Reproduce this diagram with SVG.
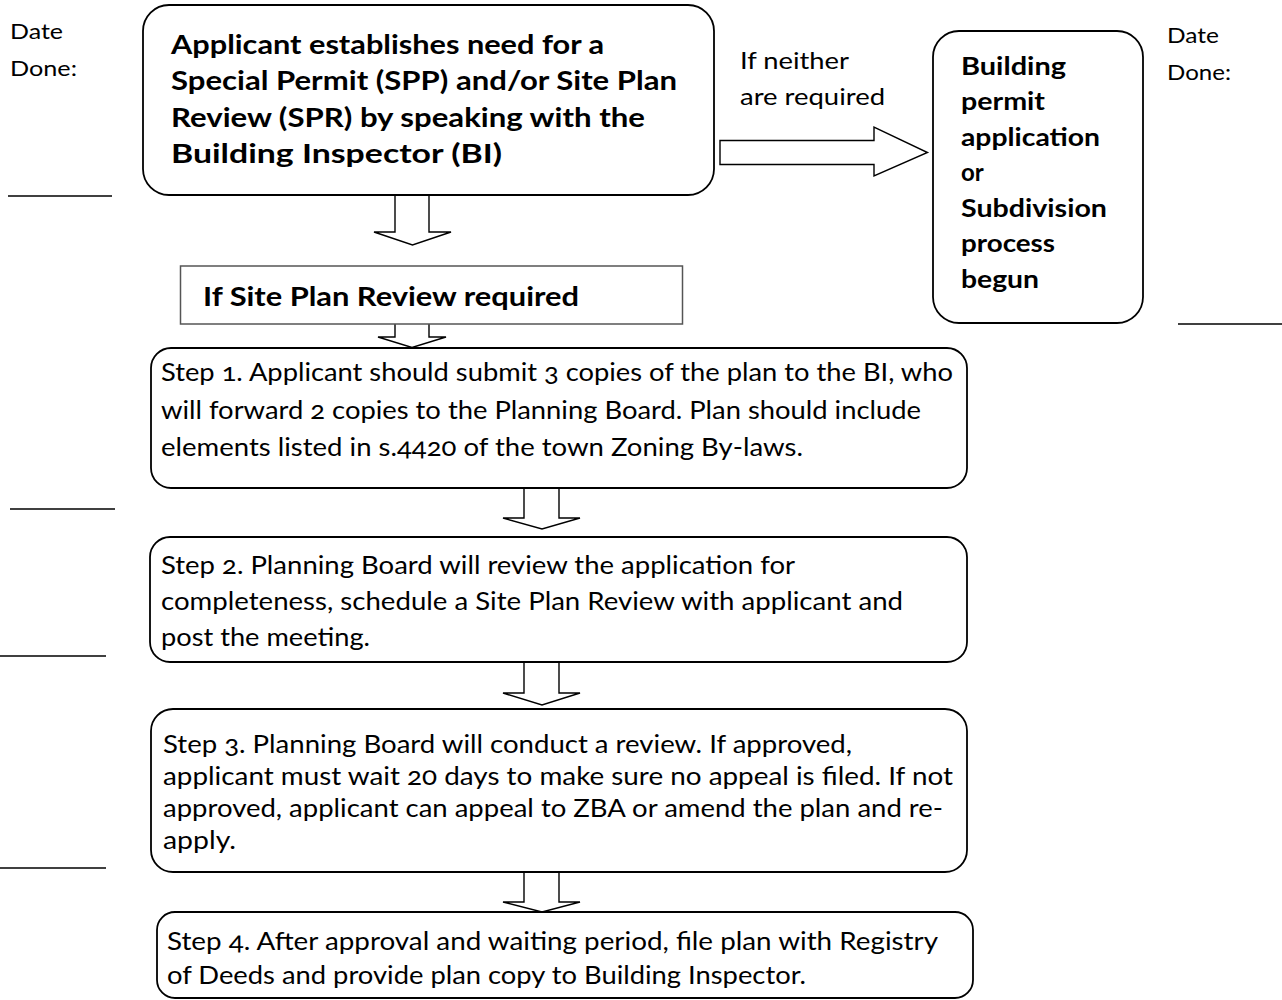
<svg xmlns="http://www.w3.org/2000/svg" width="1282" height="1000" viewBox="0 0 1282 1000">
<style>
.box{fill:#fff;stroke:#000;stroke-width:1.8}
.rect{fill:#fff;stroke:#555;stroke-width:1.5}
.arr{fill:#fff;stroke:#000;stroke-width:1.4;stroke-linejoin:miter}
.t{font-family:Lato,"Open Sans","Liberation Sans",sans-serif;font-size:25px;fill:#000;font-variant-numeric:oldstyle-nums}
.b{font-family:Lato,"Open Sans","Liberation Sans",sans-serif;font-weight:bold;fill:#000}
.h1{font-size:27px}
.h2{font-size:24px}
.lbl{font-family:Lato,"Open Sans","Liberation Sans",sans-serif;font-size:22px;fill:#000}
.rule{stroke:#000;stroke-width:1.4}
</style>

<g id="date-left">
<text class="lbl" x="10" y="39" textLength="53" lengthAdjust="spacingAndGlyphs">Date</text>
<text class="lbl" x="10" y="76" textLength="67" lengthAdjust="spacingAndGlyphs">Done:</text>
</g>
<g id="date-right">
<text class="lbl" x="1167" y="43" textLength="52" lengthAdjust="spacingAndGlyphs">Date</text>
<text class="lbl" x="1167" y="80" textLength="64" lengthAdjust="spacingAndGlyphs">Done:</text>
</g>
<g id="rules">
<line class="rule" x1="8" y1="196" x2="112" y2="196"/>
<line class="rule" x1="1178" y1="324" x2="1282" y2="324"/>
<line class="rule" x1="10" y1="509" x2="115" y2="509"/>
<line class="rule" x1="0" y1="656" x2="106" y2="656"/>
<line class="rule" x1="0" y1="868" x2="106" y2="868"/>
</g>

<g id="connectors">
<path class="arr" d="M720,140.5 L874,140.5 L874,127 L927.5,152.5 L874,176 L874,164.5 L720,164.5 Z"/>
<path class="arr" d="M395,195 L395,232 L374,232 L412.5,245 L451,232 L429,232 L429,195"/>
<path class="arr" d="M395,324 L395,337 L378,337 L412,347.5 L446,337 L429,337 L429,324"/>
<path class="arr" d="M524,488 L524,518 L503,518 L542,529 L580,518 L559,518 L559,488"/>
<path class="arr" d="M524,662 L524,693 L503,693 L542,705 L580,693 L559,693 L559,662"/>
<path class="arr" d="M524,872 L524,902 L503,902 L542,912 L580,902 L559,902 L559,872"/>
<text class="lbl" x="740" y="69" textLength="109" lengthAdjust="spacingAndGlyphs" style="font-size:24px">If neither</text>
<text class="lbl" x="740" y="105" textLength="145" lengthAdjust="spacingAndGlyphs" style="font-size:24px">are required</text>
</g>

<g id="node-start">
<rect class="box" x="143" y="5" width="571" height="190" rx="26"/>
<text class="b h1" x="171" y="54" textLength="433" lengthAdjust="spacingAndGlyphs">Applicant establishes need for a</text>
<text class="b h1" x="171" y="90" textLength="506" lengthAdjust="spacingAndGlyphs">Special Permit (SPP) and/or Site Plan</text>
<text class="b h1" x="171" y="127" textLength="474" lengthAdjust="spacingAndGlyphs">Review (SPR) by speaking with the</text>
<text class="b h1" x="171" y="163" textLength="331" lengthAdjust="spacingAndGlyphs">Building Inspector (BI)</text>
</g>

<g id="node-building">
<rect class="box" x="933" y="31" width="210" height="292" rx="26"/>
<text class="b h2" x="961" y="75" textLength="105" lengthAdjust="spacingAndGlyphs">Building</text>
<text class="b h2" x="961" y="110" textLength="84" lengthAdjust="spacingAndGlyphs">permit</text>
<text class="b h2" x="961" y="146" textLength="139" lengthAdjust="spacingAndGlyphs">application</text>
<text class="b h2" x="961" y="181">or</text>
<text class="b h2" x="961" y="217" textLength="146" lengthAdjust="spacingAndGlyphs">Subdivision</text>
<text class="b h2" x="961" y="252" textLength="94" lengthAdjust="spacingAndGlyphs">process</text>
<text class="b h2" x="961" y="288" textLength="78" lengthAdjust="spacingAndGlyphs">begun</text>
</g>

<g id="node-spr">
<rect class="rect" x="180.5" y="266" width="502" height="58"/>
<text class="b h1" x="203" y="306" textLength="376" lengthAdjust="spacingAndGlyphs">If Site Plan Review required</text>
</g>

<g id="node-step1">
<rect class="box" x="151" y="348" width="816" height="140" rx="20"/>
<text class="t" x="161" y="381" textLength="792" lengthAdjust="spacingAndGlyphs">Step 1. Applicant should submit 3 copies of the plan to the BI, who</text>
<text class="t" x="161" y="419" textLength="760" lengthAdjust="spacingAndGlyphs">will forward 2 copies to the Planning Board. Plan should include</text>
<text class="t" x="161" y="456" textLength="642" lengthAdjust="spacingAndGlyphs">elements listed in s.4420 of the town Zoning By-laws.</text>
</g>

<g id="node-step2">
<rect class="box" x="150" y="537" width="817" height="125" rx="20"/>
<text class="t" x="161" y="574" textLength="634" lengthAdjust="spacingAndGlyphs">Step 2. Planning Board will review the application for</text>
<text class="t" x="161" y="610" textLength="742" lengthAdjust="spacingAndGlyphs">completeness, schedule a Site Plan Review with applicant and</text>
<text class="t" x="161" y="646" textLength="209" lengthAdjust="spacingAndGlyphs">post the meeting.</text>
</g>

<g id="node-step3">
<rect class="box" x="151" y="709" width="816" height="163" rx="22"/>
<text class="t" x="163" y="753" textLength="689" lengthAdjust="spacingAndGlyphs">Step 3. Planning Board will conduct a review. If approved,</text>
<text class="t" x="163" y="785" textLength="790" lengthAdjust="spacingAndGlyphs">applicant must wait 20 days to make sure no appeal is filed.  If not</text>
<text class="t" x="163" y="817" textLength="780" lengthAdjust="spacingAndGlyphs">approved, applicant can appeal to ZBA or amend the plan and re-</text>
<text class="t" x="163" y="849" textLength="73" lengthAdjust="spacingAndGlyphs">apply.</text>
</g>

<g id="node-step4">
<rect class="box" x="157" y="912" width="816" height="86" rx="18"/>
<text class="t" x="167" y="950" textLength="771" lengthAdjust="spacingAndGlyphs">Step 4. After approval and waiting period, file plan with Registry</text>
<text class="t" x="167" y="984" textLength="639" lengthAdjust="spacingAndGlyphs">of Deeds and provide plan copy to Building Inspector.</text>
</g>
</svg>
